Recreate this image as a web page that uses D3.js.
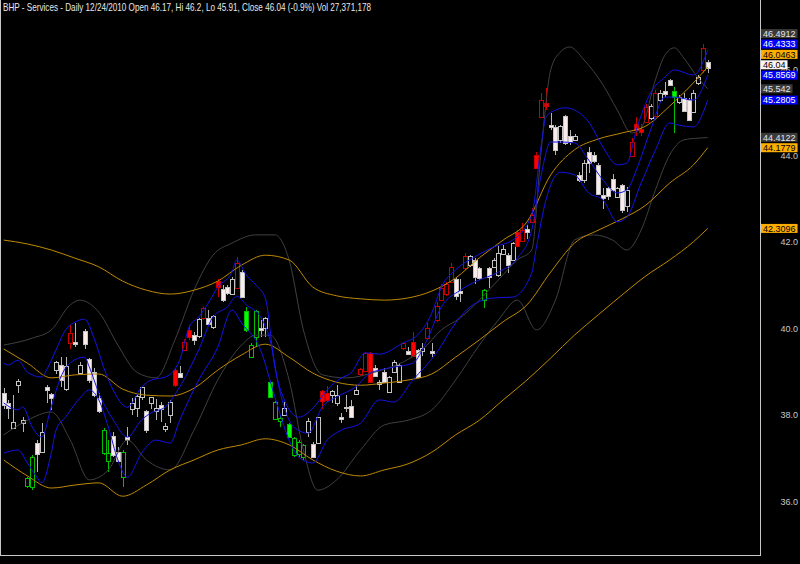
<!DOCTYPE html>
<html><head><meta charset="utf-8">
<script src="https://cdn.jsdelivr.net/npm/d3@7"></script>
<style>html,body{margin:0;padding:0;background:#000;}svg{display:block}</style>
</head><body>
<svg id="c" width="800" height="564"></svg>
<script>
const titleText = "BHP - Services - Daily 12/24/2010 Open 46.17, Hi 46.2, Lo 45.91, Close 46.04 (-0.9%) Vol 27,371,178";

const openP = [38.51,38.28,37.71,38.68,37.81,36.35,36.32,37.35,37.14,38.63,
38.47,39.03,39.15,38.58,39.66,39.69,38.97,39.94,39.28,38.99,
38.38,37.10,36.91,37.50,37.14,36.56,37.48,38.11,38.15,38.41,
38.08,38.27,38.07,38.22,37.66,37.99,39.03,38.96,39.51,39.96,
39.84,39.82,40.23,40.24,40.03,41.10,40.90,40.95,40.81,40.95,
41.31,40.40,39.33,39.79,40.00,40.00,38.76,37.91,37.84,37.99,
37.78,37.06,37.10,37.02,37.60,37.32,37.33,38.55,38.49,38.45,
38.27,37.95,38.18,38.20,38.49,38.94,39.02,39.43,39.07,38.71,
38.99,38.53,38.99,38.76,39.53,39.48,39.69,39.50,39.46,39.79,
39.47,40.19,40.65,40.79,41.08,41.13,40.85,41.39,41.46,41.58,
41.39,40.64,41.39,41.42,41.23,41.72,41.70,41.58,42.23,42.02,
42.29,42.46,44.01,44.88,45.21,44.70,44.66,44.36,44.91,44.45,
44.36,43.55,43.43,44.09,44.01,43.78,43.09,43.24,43.45,43.04,
43.31,42.83,43.99,44.72,44.60,44.78,44.86,44.90,45.28,45.50,
45.74,45.49,45.24,45.32,45.28,45.01,45.67,45.98,46.17];
const highP = [38.62,38.34,38.45,38.82,37.95,36.56,37.06,37.41,37.80,38.68,
38.49,39.23,39.34,39.34,40.07,40.11,39.22,39.97,39.30,39.07,
38.49,37.68,37.41,37.60,37.26,37.18,37.72,38.38,38.45,38.65,
38.11,38.41,38.36,38.30,37.81,38.34,39.07,39.12,39.74,40.07,
39.92,40.23,40.50,40.42,40.31,41.13,41.00,41.00,41.19,41.64,
41.35,40.50,39.65,40.42,40.19,40.27,38.78,38.32,37.99,38.30,
37.80,37.49,37.41,37.33,37.91,37.37,37.95,38.58,38.66,38.57,
38.68,38.04,38.45,38.34,38.68,39.09,39.46,39.46,39.15,38.80,
39.07,38.89,39.26,39.19,39.69,39.57,39.92,39.53,39.66,40.12,
39.65,40.61,41.02,41.07,41.52,41.19,41.13,41.75,41.70,41.62,
41.42,40.90,41.42,41.62,41.90,41.93,41.73,42.00,42.27,42.43,
42.39,42.78,44.09,45.44,45.55,44.97,44.70,44.70,44.93,44.59,
44.50,43.62,43.89,44.20,44.09,43.82,43.24,43.27,43.58,43.27,
43.34,43.27,44.40,44.88,44.73,45.19,45.19,45.51,45.51,45.71,
45.76,45.58,45.40,45.44,45.32,45.51,45.86,46.58,46.20];
const lowP = [38.13,37.89,37.69,38.49,37.60,36.30,36.25,36.68,37.10,38.26,
38.11,38.94,38.65,38.55,39.53,39.57,38.94,39.53,38.72,38.41,
38.03,37.06,36.68,37.02,36.91,36.33,37.30,37.99,37.95,38.34,
37.57,38.12,37.87,37.84,37.60,37.80,38.65,38.84,39.50,39.73,
39.61,39.77,40.19,40.07,39.97,40.73,40.61,40.77,40.77,40.92,
40.71,39.92,39.30,39.57,39.79,39.79,38.40,37.87,37.72,37.97,
37.48,37.02,37.02,36.95,37.49,37.01,37.32,38.12,38.30,38.26,
38.20,37.81,38.07,37.94,38.45,38.89,38.99,38.72,38.86,38.58,
38.74,38.49,38.97,38.74,39.50,39.41,39.34,38.86,39.36,39.73,
39.34,40.15,40.63,40.75,41.05,40.65,40.61,41.35,41.42,41.02,
41.12,40.46,40.92,41.39,41.18,41.70,41.27,41.56,41.89,42.00,
42.06,42.43,43.68,44.86,45.05,44.59,44.01,44.28,44.24,44.24,
44.33,43.38,43.35,43.59,43.82,43.08,42.77,42.97,43.16,43.01,
42.67,42.70,43.97,44.45,44.45,44.76,44.82,44.88,45.24,45.36,
45.61,44.51,45.19,45.01,44.80,44.97,45.63,45.91,45.91];
const closeP = [38.24,38.17,37.84,38.78,37.87,36.53,37.01,37.10,37.60,38.55,
38.38,39.22,38.80,39.12,39.90,39.65,39.15,39.63,38.80,38.45,
38.07,37.64,37.10,37.06,36.93,37.14,37.41,38.26,38.43,38.63,
37.64,38.40,38.15,38.12,37.74,38.30,38.68,38.86,39.69,39.79,
39.73,40.21,40.46,40.10,40.28,40.96,40.65,40.82,41.15,41.52,
40.73,39.96,39.61,40.40,39.96,40.23,38.41,38.30,37.91,38.15,
37.49,37.45,37.37,37.30,37.86,37.02,37.94,38.32,38.32,38.55,
38.45,37.91,38.15,37.95,38.58,39.05,39.43,38.76,38.88,38.76,
38.76,38.88,39.22,39.15,39.65,39.42,39.36,38.88,39.54,40.01,
39.43,40.51,40.93,41.02,41.42,40.73,40.81,41.66,41.66,41.19,
41.15,40.88,41.19,41.58,41.75,41.83,41.46,41.98,41.91,42.27,
42.23,42.62,43.70,45.28,45.15,44.65,44.13,44.68,44.28,44.32,
44.45,43.43,43.82,43.83,43.88,43.12,43.03,43.06,43.20,43.24,
42.74,43.21,44.32,44.59,44.53,45.13,45.14,45.44,45.44,45.42,
45.63,45.36,45.36,45.03,44.82,45.44,45.82,46.48,46.04];
// w = normal, r = red signal, g = green signal
const signal = "wwwwwggwww"+"wwwwrwwwww"+"wggwwgwwww"+"wwwwwwrwrr"+"wwrwwrwwwr"+
  "wgggwwgggw"+"ggggwwwrrw"+"wwwwwrrrww"+"wwwwrwrwwr"+"wrrrrwwrww"+
  "wgwwwwwwrr"+"wrrrrwwwww"+"wwwwwwwwww"+"wwrrrrwrww"+"wgwwwwwrw";

const yTicks = [36, 38, 40, 42, 44, 46];

// [day index, value]
const orangeUpper = [[0,42.04],[5,41.95],[10,41.81],[15,41.62],[20,41.42],[25,41.09],[30,40.88],[35,40.79],[40,40.88],[45,41.09],[50,41.46],[55,41.69],[60,41.58],[65,40.95],[70,40.75],[75,40.68],[80,40.65],[85,40.70],[90,40.86],[95,41.16],[100,41.63],[105,42.04],[110,42.46],[115,43.55],[120,44.13],[125,44.38],[130,44.52],[135,44.68],[140,45.14],[145,45.68],[148,46.0463]];
const orangeMiddle = [[0,39.52],[5,39.19],[10,38.85],[15,38.92],[20,38.94],[25,38.59],[30,38.45],[35,38.43],[40,38.61],[45,39.03],[50,39.38],[55,39.63],[60,39.33],[65,38.96],[70,38.75],[75,38.68],[80,38.73],[85,38.80],[90,38.94],[95,39.33],[100,39.73],[105,40.15],[110,40.54],[115,41.30],[120,41.97],[125,42.27],[130,42.53],[135,42.85],[140,43.36],[145,43.78],[148,44.1779]];
const orangeLower = [[0,36.95],[5,36.58],[10,36.30],[15,36.37],[20,36.42],[25,36.11],[30,36.37],[35,36.72],[40,36.95],[45,37.18],[50,37.30],[55,37.44],[60,37.30],[65,36.95],[70,36.69],[75,36.58],[80,36.72],[85,36.86],[90,37.13],[95,37.53],[100,37.87],[105,38.34],[110,38.80],[115,39.31],[120,39.84],[125,40.31],[130,40.77],[135,41.21],[140,41.58],[145,42.00],[148,42.3096]];

const blueUpper = [[0,39.19],[1,39.15],[3,39.26],[5,38.98],[8,38.87],[9,39.03],[11,39.50],[13,39.96],[15,40.14],[17,40.21],[19,39.77],[21,39.10],[23,38.57],[26,38.17],[29,38.64],[31,38.80],[34,38.87],[37,39.26],[39,40.03],[41,40.26],[43,40.58],[45,40.95],[48,41.30],[49,41.58],[51,41.23],[53,41.00],[55,40.70],[57,39.10],[59,38.34],[62,37.94],[65,38.15],[68,38.57],[71,38.85],[73,38.96],[76,39.43],[79,39.40],[84,39.66],[87,39.84],[90,40.35],[92,40.95],[95,41.35],[99,41.65],[103,41.88],[107,42.04],[111,42.62],[113,44.24],[114,44.89],[116,45.05],[118,45.10],[120,45.05],[123,44.77],[126,44.19],[129,43.78],[131,43.82],[133,44.59],[136,45.45],[139,45.81],[141,45.98],[145,45.86],[148,46.4333]];
const blueMiddle = [[0,38.27],[3,38.11],[4,38.18],[6,37.71],[8,37.48],[10,38.18],[12,38.87],[14,39.20],[17,39.33],[18,39.10],[20,38.50],[23,37.88],[26,37.48],[29,37.88],[31,38.04],[34,38.18],[37,38.64],[41,39.50],[44,40.26],[47,40.49],[49,40.74],[51,40.54],[54,40.26],[56,39.73],[58,38.57],[61,37.71],[64,37.57],[67,38.18],[70,38.41],[74,38.64],[77,38.96],[79,39.03],[82,39.10],[86,39.19],[89,39.73],[92,40.49],[96,40.88],[99,41.07],[104,41.30],[108,41.62],[111,42.27],[113,43.55],[115,44.31],[117,44.31],[120,44.29],[123,43.89],[126,43.43],[129,43.13],[131,43.20],[133,43.66],[136,44.59],[139,45.35],[141,45.35],[145,45.28],[148,45.8569]];
const blueLower = [[0,37.11],[3,37.18],[5,36.88],[7,36.55],[8,36.42],[10,37.11],[11,37.64],[13,37.94],[16,38.38],[18,38.57],[20,38.34],[22,37.71],[24,36.95],[26,36.55],[29,37.11],[32,37.41],[35,37.34],[37,37.87],[41,38.80],[45,39.56],[48,40.42],[50,40.12],[54,39.50],[57,38.41],[60,37.41],[62,37.02],[65,36.88],[68,37.41],[71,37.64],[75,37.80],[79,38.34],[82,38.29],[86,38.80],[91,39.43],[95,40.12],[98,40.49],[103,40.70],[107,40.72],[111,41.28],[112,41.88],[114,42.97],[117,43.61],[120,43.55],[123,43.13],[126,42.97],[129,42.46],[131,42.57],[134,43.36],[137,44.12],[140,44.75],[142,44.70],[145,44.66],[148,45.2805]];

const grayUpper = [[0,39.61],[6,39.77],[10,39.96],[14,40.54],[16,40.65],[20,40.37],[24,39.61],[28,38.98],[32,38.85],[36,39.73],[40,40.88],[44,41.69],[48,41.97],[53,42.16],[57,42.16],[60,41.58],[63,39.96],[67,38.92],[72,38.85],[78,38.98],[84,39.22],[88,39.50],[92,39.96],[96,40.24],[100,40.65],[104,41.12],[108,41.58],[111,41.81],[113,44.13],[115,45.98],[117,46.39],[119,46.51],[122,46.21],[126,45.63],[129,45.05],[132,44.52],[134,44.63],[137,45.75],[139,46.32],[141,46.49],[143,46.25],[146,45.79],[148,45.542]];
const grayLower = [[0,37.53],[5,37.87],[10,38.06],[14,37.41],[18,36.49],[22,36.72],[26,37.41],[30,36.95],[35,36.72],[40,37.64],[45,38.80],[50,39.61],[53,39.84],[56,39.84],[60,38.80],[63,37.18],[66,36.25],[70,36.49],[75,37.18],[80,37.76],[85,37.87],[90,38.11],[95,38.80],[100,39.61],[104,40.19],[108,40.65],[112,39.96],[116,40.65],[120,42.04],[124,42.16],[128,42.04],[131,41.81],[134,42.27],[137,43.20],[140,44.01],[143,44.36],[146,44.40],[148,44.4122]];

// last-value markers on the price axis
const markerValues = [46.4912, 46.4333, 46.0463, 46.04, 45.8569, 45.542, 45.2805, 44.4122, 44.1779, 42.3096];
const markerKinds  = ["gray","blue","orange","price","blue","gray","blue","gray","orange","orange"];

const svg = d3.select("#c");
svg.append("rect").attr("width",800).attr("height",564).attr("fill","#000");

const x = d3.scaleLinear().domain([0, 148]).range([3.7, 707.7]);
const y = d3.scaleLinear().domain([36, 46]).range([501, 69]);

// frame
const frame = svg.append("g").attr("stroke","#c8c8c8").attr("stroke-width",1).attr("shape-rendering","crispEdges");
frame.append("line").attr("x1",0.5).attr("x2",0.5).attr("y1",0).attr("y2",555.5);
frame.append("line").attr("x1",760.5).attr("x2",760.5).attr("y1",0).attr("y2",555.5);
frame.append("line").attr("x1",0).attr("x2",760.5).attr("y1",555.5).attr("y2",555.5);

// candles
const days = d3.range(openP.length);
const pal = {
  w:{up:"#000000", down:"#fbecec", stroke:"#c4c4c4", wick:"#b4b4b4"},
  r:{up:"#000000", down:"#ff0000", stroke:"#c80000", wick:"#c80000"},
  g:{up:"#000000", down:"#00ff00", stroke:"#00c000", wick:"#00c000"}
};
const cg = svg.append("g").attr("shape-rendering","crispEdges");
cg.selectAll("line.wick").data(days).join("line")
  .attr("class","wick")
  .attr("x1", i => Math.round(x(i)) + 0.5).attr("x2", i => Math.round(x(i)) + 0.5)
  .attr("y1", i => y(highP[i])).attr("y2", i => y(lowP[i]))
  .attr("stroke", i => pal[signal[i]].wick).attr("stroke-width",1);
cg.selectAll("rect.body").data(days).join("rect")
  .attr("class","body")
  .attr("x", i => Math.round(x(i)) - 1.5)
  .attr("width", 4)
  .attr("y", i => Math.round(y(Math.max(openP[i], closeP[i]))) + 0.5)
  .attr("height", i => Math.max(1, Math.round(Math.abs(y(openP[i]) - y(closeP[i])))))
  .attr("fill", i => closeP[i] < openP[i] ? pal[signal[i]].down : pal[signal[i]].up)
  .attr("stroke", i => pal[signal[i]].stroke).attr("stroke-width",1);

// indicator lines
const line = d3.line().x(d => x(d[0])).y(d => y(d[1])).curve(d3.curveMonotoneX);
const lg = svg.append("g").attr("fill","none").attr("stroke-width",1);
[grayUpper, grayLower].forEach(s => lg.append("path").attr("d", line(s)).attr("stroke","#404040"));
[orangeUpper, orangeMiddle, orangeLower].forEach(s => lg.append("path").attr("d", line(s)).attr("stroke","#c08a00"));
[blueUpper, blueMiddle, blueLower].forEach(s => lg.append("path").attr("d", line(s)).attr("stroke","#1414e6"));

// title
svg.append("text").attr("x",3).attr("y",11)
  .attr("font-family","Liberation Sans, Arial, sans-serif").attr("font-size",10.5)
  .attr("fill","#e8e8e8").attr("textLength",368).attr("lengthAdjust","spacingAndGlyphs")
  .text(titleText);

// y axis labels
svg.append("g").selectAll("text").data(yTicks).join("text")
  .attr("x",798).attr("y", d => y(d) + 3.5).attr("text-anchor","end")
  .attr("font-family","Liberation Sans, Arial, sans-serif").attr("font-size",9)
  .attr("fill","#c8c8c8").text(d => d.toFixed(1));

// value markers (stacked upward to avoid overlap)
const kindStyle = {
  gray:{bg:"#3a3a3a", fg:"#e6e6e6"},
  blue:{bg:"#0000ff", fg:"#ffffff"},
  orange:{bg:"#ffae00", fg:"#000000"},
  price:{bg:"#fff2f2", fg:"#000000"}
};
const boxH = 9, gap = 10.4;
const order = d3.range(markerValues.length).sort((a,b) => markerValues[a] - markerValues[b]);
const pos = {};
let prev = Infinity;
order.forEach(k => {
  let cy = y(markerValues[k]);
  if (prev - cy < gap) cy = prev - gap;
  pos[k] = cy; prev = cy;
});
const mg = svg.append("g").attr("font-family","Liberation Sans, Arial, sans-serif").attr("font-size",9);
order.slice().reverse().forEach(k => {
  const st = kindStyle[markerKinds[k]];
  const txt = String(markerValues[k]);
  const t = mg.append("text").attr("x",763).attr("y",pos[k]+3.3).attr("fill",st.fg).text(txt);
  const w = t.node().getComputedTextLength();
  mg.insert("rect","text:last-child").attr("x",761).attr("y",pos[k]-boxH/2).attr("width",w+4).attr("height",boxH).attr("fill",st.bg);
});
</script>
</body></html>
